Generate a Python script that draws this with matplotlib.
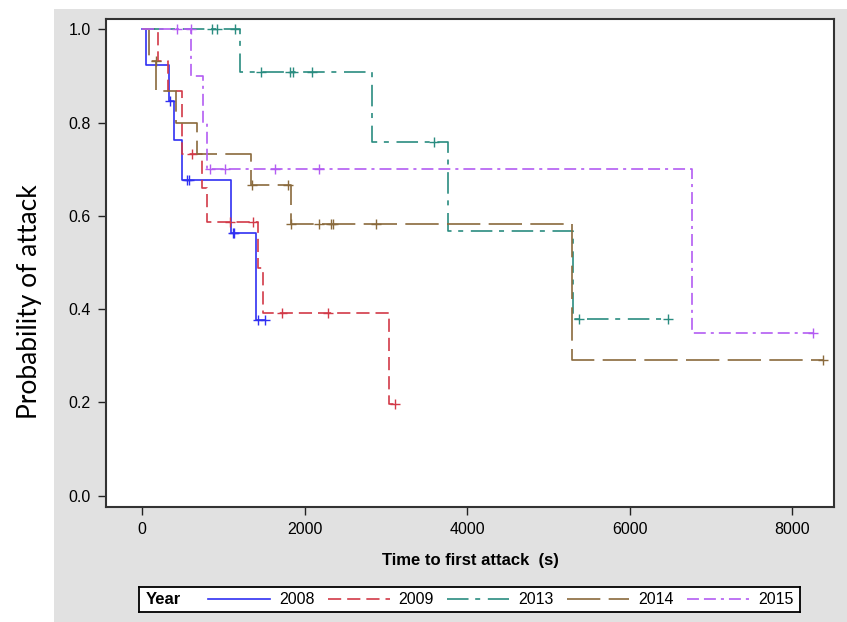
import numpy as np
import matplotlib
matplotlib.use("Agg")
import matplotlib.pyplot as plt
from matplotlib.patches import Rectangle
from matplotlib.lines import Line2D

plt.rcParams["font.family"] = ["Liberation Sans", "DejaVu Sans"]
plt.rcParams["lines.scale_dashes"] = False

# --- dati (Kaplan-Meier) ---
years = ["2008", "2009", "2013", "2014", "2015"]

# tempi degli eventi (s), probabilita dopo ogni evento, tempi censurati
t_2008 = [43, 335, 395, 486, 1095, 1400]
s_2008 = [0.923, 0.846, 0.762, 0.677, 0.564, 0.376]
c_2008 = [342, 548, 572, 1121, 1132, 1430, 1511]

t_2009 = [198, 322, 486, 732, 794, 1421, 1491, 3037]
s_2009 = [0.933, 0.867, 0.733, 0.660, 0.587, 0.489, 0.391, 0.196]
c_2009 = [609, 1081, 1368, 1717, 2291, 3111]

t_2013 = [1204, 2832, 3760, 5300]
s_2013 = [0.909, 0.758, 0.568, 0.379]
c_2013 = [855, 917, 1142, 1462, 1819, 1852, 2094, 3595, 5380, 6468]

t_2014 = [85, 175, 412, 670, 1339, 1827, 5294]
s_2014 = [0.933, 0.867, 0.800, 0.733, 0.667, 0.583, 0.292]
c_2014 = [168, 1355, 1800, 1831, 2176, 2330, 2350, 2877, 8375]

t_2015 = [605, 745, 801, 6763]
s_2015 = [0.90, 0.80, 0.70, 0.35]
c_2015 = [425, 598, 834, 1019, 1634, 2180, 8252]

times = [t_2008, t_2009, t_2013, t_2014, t_2015]
survs = [s_2008, s_2009, s_2013, s_2014, s_2015]
cens = [c_2008, c_2009, c_2013, c_2014, c_2015]

# stile linee (stile SAS)
colors = ["#3030f2", "#d23a48", "#2a8c80", "#8a6a3c", "#b35cf2"]
styles = [
    "-",
    (0, (9.5, 4.3)),
    (0, (15.5, 4.8, 3.6, 5.5)),
    (0, (24, 6)),
    (0, (8.6, 3.6, 8.6, 3.6, 2.2, 3.6)),
]

W, H = 847, 622
fig = plt.figure(figsize=(W / 100, H / 100), dpi=100)
fig.patch.set_facecolor("white")

# pannello grigio di sfondo
fig.patches.append(Rectangle((54 / W, 0), 1 - 54 / W, (H - 9) / H,
                             transform=fig.transFigure, facecolor="#e1e1e1",
                             edgecolor="none", zorder=-10))

ax = fig.add_axes([106 / W, 1 - 507 / H, (834 - 106) / W, (507 - 19) / H])
ax.set_facecolor("white")

for t, s, c, col, ls in zip(times, survs, cens, colors, styles):
    t = np.asarray(t, float)
    s = np.asarray(s, float)
    c = np.asarray(c, float)
    end = max(c.max(), t[-1])
    x = np.r_[0, t, end]
    y = np.r_[1.0, s, s[-1]]
    ax.step(x, y, where="post", color=col, lw=1.2, linestyle=ls)
    # marcatori di censura
    idx = np.searchsorted(t, c, side="right")
    yc = np.r_[1.0, s][idx]
    ax.plot(c, yc, "+", color=col, ms=7, mew=1.0, linestyle="none")

ax.set_xlim(-445, 8515)
ax.set_ylim(-0.0242, 1.0225)
ax.set_xticks([0, 2000, 4000, 6000, 8000])
ax.set_yticks([0.0, 0.2, 0.4, 0.6, 0.8, 1.0])
ax.set_yticklabels(["%.1f" % v for v in ax.get_yticks()])
ax.tick_params(direction="out", length=6, width=1, labelsize=11.5, pad=5,
               color="#222222")
for sp in ax.spines.values():
    sp.set_color("#333333")
    sp.set_linewidth(1.5)

fig.text(470 / W, 1 - 560 / H, "Time to first attack  (s)", ha="center",
         va="center", fontsize=12, fontweight="bold")
fig.text(30 / W, 1 - 302 / H, "Probability of attack", rotation=90,
         ha="center", va="center", fontsize=19, family=["Lato", "DejaVu Sans"])

# legenda costruita a mano (titolo "Year" sulla stessa riga)
lg = fig.add_axes([139 / W, 1 - 611.5 / H, 661 / W, 25 / H])
lg.set_xlim(0, 661)
lg.set_ylim(0, 25)
lg.set_xticks([])
lg.set_yticks([])
for sp in lg.spines.values():
    sp.set_color("black")
    sp.set_linewidth(1.3)
lg.text(7, 12.5, "Year", fontsize=12, fontweight="bold", va="center")
for i, (yr, col, ls) in enumerate(zip(years, colors, styles)):
    x0 = 69 + 119.7 * i
    lg.add_line(Line2D([x0, x0 + 62], [12.5, 12.5], color=col, lw=1.2,
                       linestyle=ls))
    lg.text(x0 + 71, 12.5, yr, fontsize=11.5, va="center")

fig.savefig("out.png", dpi=100)
